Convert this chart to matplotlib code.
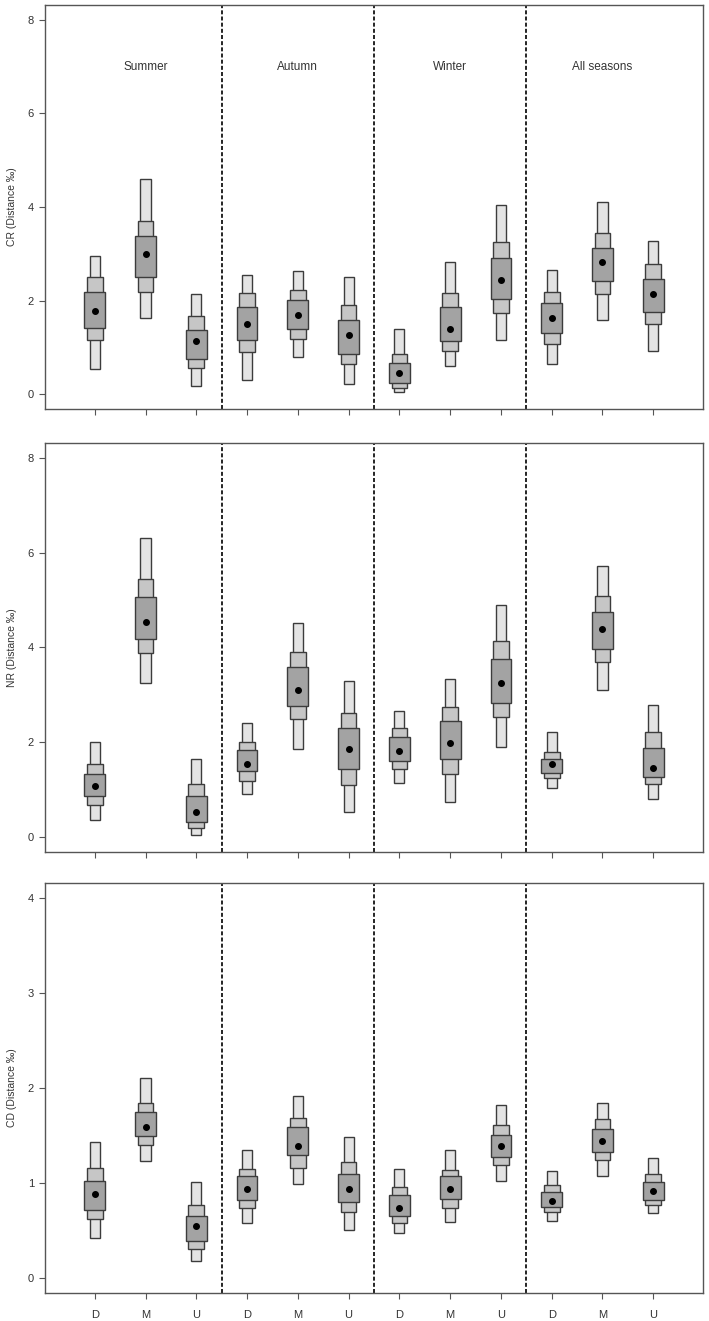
import matplotlib
matplotlib.use("Agg")
import matplotlib.pyplot as plt
from matplotlib.patches import Rectangle

plt.rcParams["font.family"] = ["Liberation Sans", "DejaVu Sans"]

SEASONS = ["Summer", "Autumn", "Winter", "All seasons"]
SITES = ["D", "M", "U"]

# per panel, 12 entries (season x site): outer, middle and inner intervals plus median
CR_LIGHT_LO = [0.54, 1.62, 0.18, 0.31, 0.79, 0.21, 0.04, 0.60, 1.16, 0.65, 1.58, 0.93]
CR_LIGHT_HI = [2.96, 4.60, 2.14, 2.54, 2.64, 2.51, 1.40, 2.83, 4.04, 2.65, 4.10, 3.27]
CR_MID_LO = [1.16, 2.18, 0.55, 0.90, 1.18, 0.64, 0.12, 0.91, 1.74, 1.06, 2.13, 1.50]
CR_MID_HI = [2.50, 3.69, 1.66, 2.16, 2.23, 1.90, 0.86, 2.17, 3.25, 2.18, 3.45, 2.78]
CR_DARK_LO = [1.41, 2.50, 0.74, 1.16, 1.40, 0.86, 0.24, 1.13, 2.03, 1.30, 2.41, 1.75]
CR_DARK_HI = [2.19, 3.37, 1.37, 1.86, 2.02, 1.59, 0.66, 1.86, 2.91, 1.94, 3.13, 2.45]
CR_MEDIAN = [1.78, 2.99, 1.14, 1.49, 1.68, 1.26, 0.46, 1.39, 2.44, 1.63, 2.82, 2.13]

NR_LIGHT_LO = [0.35, 3.25, 0.04, 0.90, 1.86, 0.52, 1.13, 0.72, 1.89, 1.03, 3.09, 0.80]
NR_LIGHT_HI = [2.01, 6.31, 1.63, 2.40, 4.51, 3.29, 2.65, 3.34, 4.90, 2.22, 5.72, 2.79]
NR_MID_LO = [0.67, 3.88, 0.18, 1.17, 2.48, 1.09, 1.43, 1.33, 2.52, 1.23, 3.70, 1.11]
NR_MID_HI = [1.54, 5.45, 1.12, 2.00, 3.90, 2.62, 2.29, 2.74, 4.13, 1.78, 5.10, 2.21]
NR_DARK_LO = [0.85, 4.19, 0.30, 1.38, 2.77, 1.42, 1.59, 1.64, 2.82, 1.35, 3.96, 1.26]
NR_DARK_HI = [1.33, 5.07, 0.86, 1.84, 3.58, 2.29, 2.10, 2.45, 3.75, 1.65, 4.75, 1.88]
NR_MEDIAN = [1.07, 4.54, 0.51, 1.54, 3.10, 1.85, 1.80, 1.98, 3.24, 1.53, 4.40, 1.46]

CD_LIGHT_LO = [0.42, 1.23, 0.18, 0.58, 0.99, 0.51, 0.47, 0.59, 1.02, 0.60, 1.07, 0.68]
CD_LIGHT_HI = [1.43, 2.10, 1.01, 1.35, 1.92, 1.48, 1.15, 1.35, 1.82, 1.13, 1.84, 1.26]
CD_MID_LO = [0.62, 1.40, 0.31, 0.74, 1.16, 0.69, 0.58, 0.74, 1.19, 0.70, 1.24, 0.77]
CD_MID_HI = [1.16, 1.84, 0.77, 1.15, 1.68, 1.22, 0.96, 1.14, 1.61, 0.98, 1.67, 1.09]
CD_DARK_LO = [0.72, 1.49, 0.39, 0.82, 1.29, 0.80, 0.65, 0.83, 1.27, 0.75, 1.33, 0.82]
CD_DARK_HI = [1.02, 1.75, 0.65, 1.07, 1.59, 1.10, 0.87, 1.07, 1.51, 0.91, 1.57, 1.01]
CD_MEDIAN = [0.88, 1.59, 0.55, 0.94, 1.39, 0.94, 0.74, 0.94, 1.39, 0.81, 1.44, 0.92]

PANELS = [
    ("CR (Distance \u2030)", 8, [0, 2, 4, 6, 8],
     CR_LIGHT_LO, CR_LIGHT_HI, CR_MID_LO, CR_MID_HI, CR_DARK_LO, CR_DARK_HI, CR_MEDIAN),
    ("NR (Distance \u2030)", 8, [0, 2, 4, 6, 8],
     NR_LIGHT_LO, NR_LIGHT_HI, NR_MID_LO, NR_MID_HI, NR_DARK_LO, NR_DARK_HI, NR_MEDIAN),
    ("CD (Distance \u2030)", 4, [0, 1, 2, 3, 4],
     CD_LIGHT_LO, CD_LIGHT_HI, CD_MID_LO, CD_MID_HI, CD_DARK_LO, CD_DARK_HI, CD_MEDIAN),
]

AX_RECTS = [
    (0.0635, 0.6904, 0.928, 0.3058),
    (0.0635, 0.3553, 0.928, 0.3091),
    (0.0635, 0.0210, 0.928, 0.3108),
]

EDGE = "#3c3c3c"
SPINE = "#555555"


def draw_interval(ax, x, lo, hi, width, color):
    ax.add_patch(Rectangle((x - width / 2, lo), width, hi - lo,
                           facecolor=color, edgecolor=EDGE, linewidth=1.0))


fig = plt.figure(figsize=(7.09, 13.21), dpi=100)
positions = list(range(1, 13))

for i, (ylabel, ymax, yticks, llo, lhi, mlo, mhi, dlo, dhi, med) in enumerate(PANELS):
    ax = fig.add_axes(AX_RECTS[i])
    for k, x in enumerate(positions):
        draw_interval(ax, x, llo[k], lhi[k], 0.20, "#e4e4e4")
        draw_interval(ax, x, mlo[k], mhi[k], 0.31, "#c6c6c6")
        draw_interval(ax, x, dlo[k], dhi[k], 0.41, "#a3a3a3")
    ax.plot(positions, med, "o", color="black", markersize=4, zorder=5)

    for xv in (3.5, 6.5, 9.5):
        ax.axvline(xv, color="black", linestyle=(0, (2.4, 1.3)), linewidth=1.2)

    pad = ymax * 0.04
    ax.set_ylim(-pad, ymax + pad)
    ax.set_xlim(0.02, 12.98)
    ax.set_yticks(yticks)
    ax.set_xticks(positions)
    if i == 2:
        ax.set_xticklabels(SITES * 4)
    else:
        ax.set_xticklabels([])
    if i == 0:
        for s, season in enumerate(SEASONS):
            ax.text(2 + 3 * s, 7.0, season, ha="center", va="center",
                    fontsize=8.5, color="#333333")

    ax.set_ylabel(ylabel, fontsize=7.5, color="#333333", labelpad=8)
    ax.tick_params(axis="both", direction="out", length=4, width=0.8,
                   colors=SPINE, labelcolor="#333333", labelsize=8, pad=4)
    ax.tick_params(axis="x", pad=8)
    for sp in ax.spines.values():
        sp.set_color(SPINE)
        sp.set_linewidth(1.0)

fig.savefig("out.png", dpi=100)
